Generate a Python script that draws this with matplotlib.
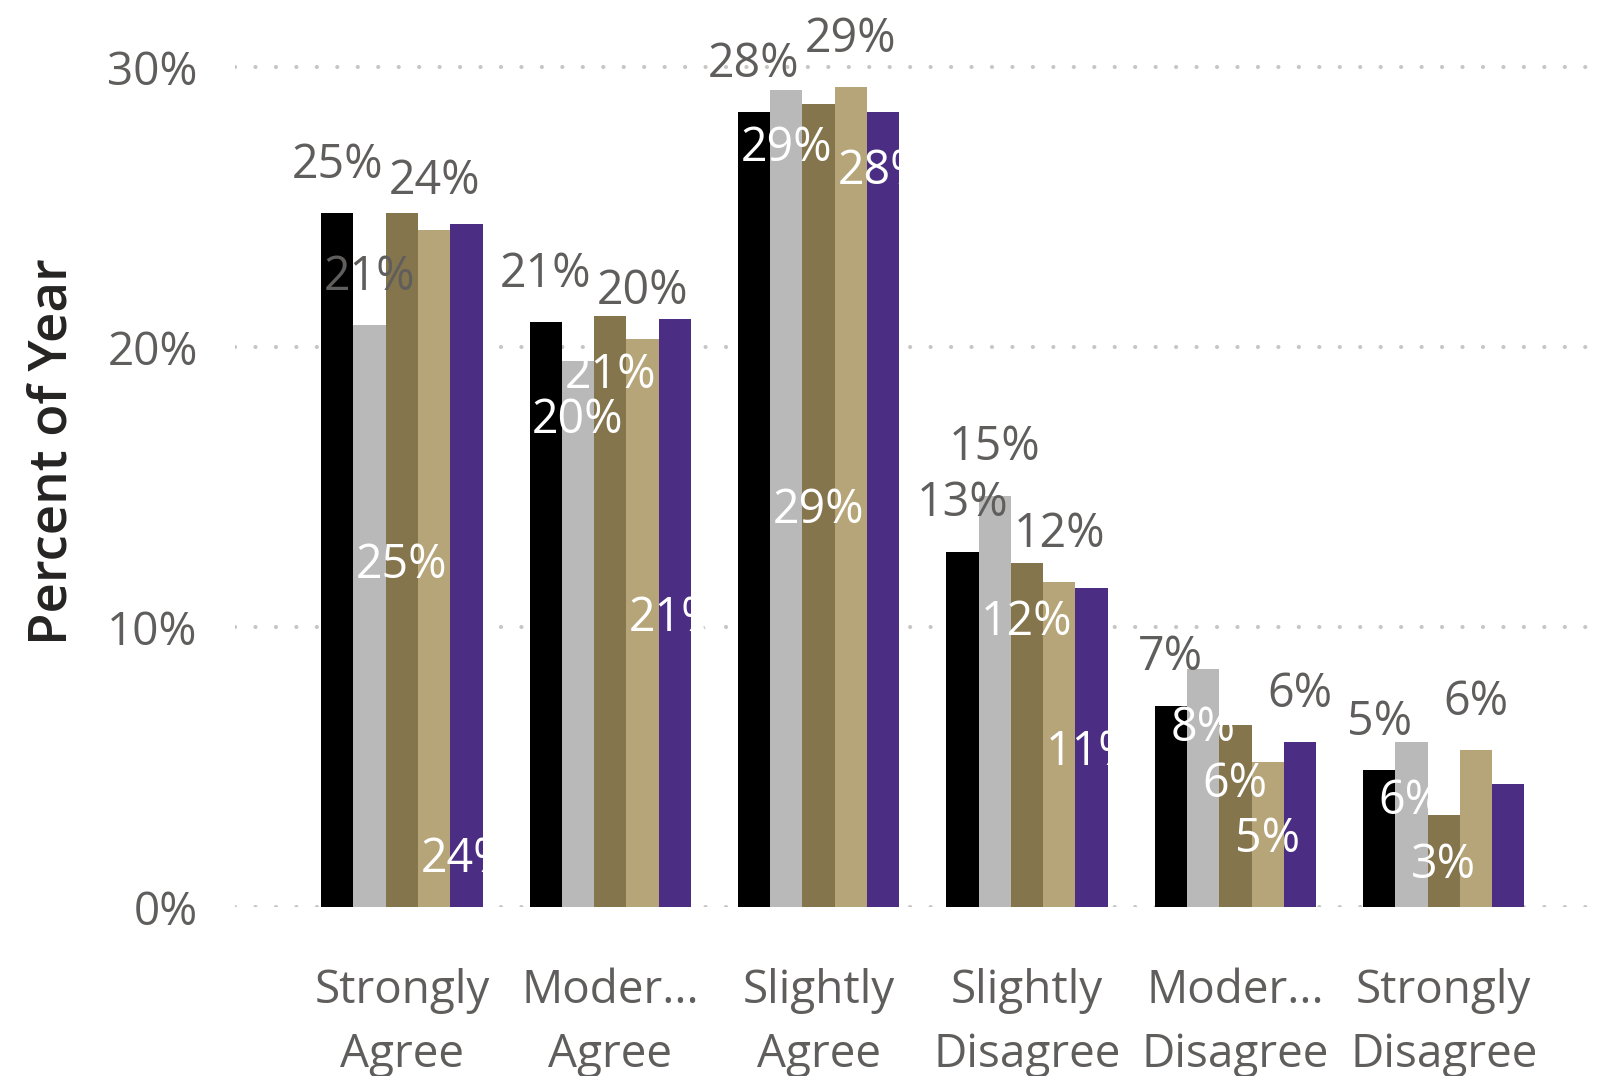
import numpy as np
import matplotlib
matplotlib.use("Agg")
import matplotlib.pyplot as plt

plt.rcParams['font.family'] = ['Open Sans', 'DejaVu Sans']

categories = ["Strongly\nAgree", "Moder...\nAgree", "Slightly\nAgree",
              "Slightly\nDisagree", "Moder...\nDisagree", "Strongly\nDisagree"]

# percent of year, one list per series (bar colours in order)
s1 = [24.8, 20.9, 28.4, 12.7, 7.2, 4.9]
s2 = [20.8, 19.5, 29.2, 14.7, 8.5, 5.9]
s3 = [24.8, 21.1, 28.7, 12.3, 6.5, 3.3]
s4 = [24.2, 20.3, 29.3, 11.6, 5.2, 5.6]
s5 = [24.4, 21.0, 28.4, 11.4, 5.9, 4.4]
series = [s1, s2, s3, s4, s5]
colors = ["#000000", "#B9B9B9", "#85754D", "#B7A57A", "#4B2E83"]

# where each data label sits (out = above bar, in = inside top, mid, base, None = hidden)
label_pos = [
    ["out", "out", "out", "out", "out", "out"],
    ["out", "in", "in", "out", "in", "in"],
    ["mid", "in", "mid", "in", "in", "mid"],
    ["out", "out", "out", "out", "mid", "out"],
    ["base", "mid", "in", "mid", "out", None],
]

dark = "#605E5C"

fig = plt.figure(figsize=(16, 10.76), dpi=100)
ax = fig.add_axes([0.147, 0.157, 0.853, 0.8325])

x = np.arange(len(categories))
w = 0.155
for i, vals in enumerate(series):
    xs = x + (i - 2) * w
    ax.bar(xs, vals, width=w, color=colors[i], zorder=2)

for i, vals in enumerate(series):
    xs = x + (i - 2) * w
    for j, v in enumerate(vals):
        mode = label_pos[i][j]
        if mode is None:
            continue
        txt = f"{round(v):.0f}%"
        if mode == "out":
            y, dy, c = v, 34.5, dark
        elif mode == "in":
            y, dy, c = v, -42.5, "white"
        elif mode == "mid":
            y, dy, c = v / 2, -3.5, "white"
        else:
            y, dy, c = 0, 34.5, "white"
        ax.annotate(txt, (xs[j], y), xytext=(0, dy), textcoords="offset points",
                    ha="center", va="center", fontsize=33.5, color=c, zorder=3,
                    annotation_clip=False)

ax.set_xlim(-0.8, 5.75)
ax.set_ylim(0, 32)
ax.set_yticks([0, 10, 20, 30])
ax.set_yticklabels(["0%", "10%", "20%", "30%"])
ax.set_xticks(x)
ax.set_xticklabels(categories, linespacing=1.5)
ax.tick_params(axis="both", length=0, labelsize=33, labelcolor=dark)
ax.tick_params(axis="y", pad=27)
ax.tick_params(axis="x", pad=44)
for sp in ax.spines.values():
    sp.set_visible(False)
ax.set_axisbelow(True)
ax.yaxis.grid(True, color="#C8C6C4", linewidth=3, linestyle=(0, (0.01, 4.9)),
              dash_capstyle="round", zorder=0)

fig.text(53 / 1600, 0.58, "Percent of Year", rotation=90, ha="center", va="center",
         fontsize=38, fontweight="semibold", color="#252423")

fig.savefig("out.png", dpi=100)
